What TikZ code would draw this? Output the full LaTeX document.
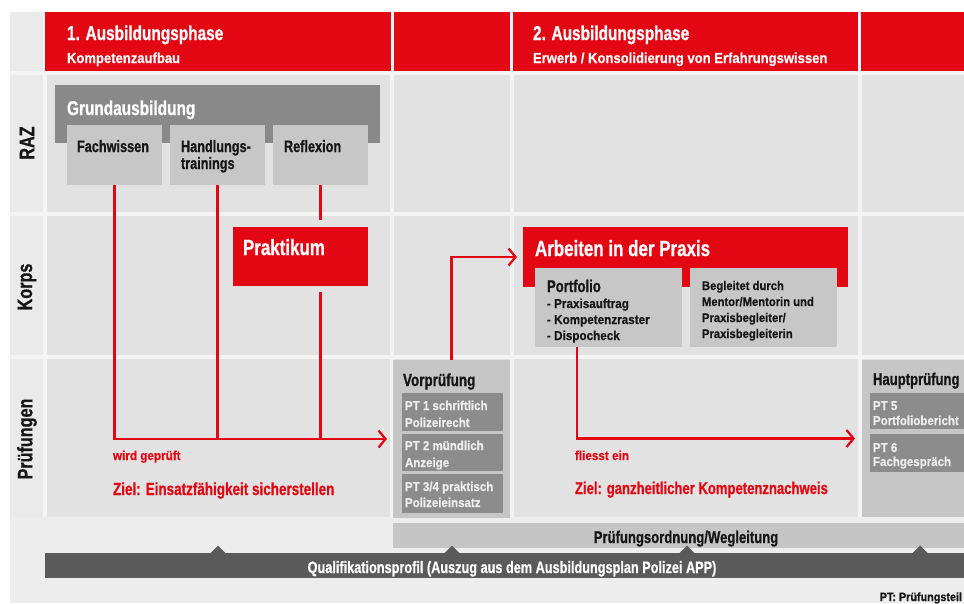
\documentclass[tikz,border=0pt]{standalone}
\usepackage{fontspec}
\setmainfont{Liberation Sans}
\newfontfamily\cnd{Liberation Sans}[FakeStretch=0.77,FakeBold=0.8]
\newfontfamily\smf{Liberation Sans}[FakeStretch=0.9,FakeBold=0.5]
\usetikzlibrary{arrows.meta}
\newcommand{\fsz}[1]{\fontsize{#1}{#1}\selectfont}
\definecolor{rot}{RGB}{227,6,19}
\definecolor{bodyc}{RGB}{226,226,226}
\definecolor{labc}{RGB}{234,234,234}
\definecolor{gapc}{RGB}{244,244,244}
\definecolor{lowc}{RGB}{237,237,237}
\definecolor{grundc}{RGB}{137,137,137}
\definecolor{lightc}{RGB}{199,199,199}
\definecolor{vorc}{RGB}{198,198,198}
\definecolor{ptc}{RGB}{140,140,140}
\definecolor{pttext}{RGB}{238,238,238}
\definecolor{darkbar}{RGB}{90,90,90}
\definecolor{ordc}{RGB}{197,197,197}
\definecolor{darkt}{RGB}{22,22,22}
\begin{document}
\begin{tikzpicture}[x=1pt,y=-1pt,
  box/.style={anchor=north west,inner sep=0pt,outer sep=0pt},
  lab/.style={inner sep=0pt,outer sep=0pt,anchor=base west},
  big/.style={font=\cnd\bfseries\fsz{#1}},
  sml/.style={font=\smf\bfseries\fsz{#1}},
  rowlab/.style={inner sep=0pt,rotate=90,font=\cnd\bfseries\fsz{21},text=darkt},
  redline/.style={draw=rot,line width=2.3pt},
  arr/.style={-{Straight Barb[length=7pt,width=17pt]}}]
\useasboundingbox (0,0) rectangle (964,603);
\clip (0,0) rectangle (964,603);
% background
\fill[white] (0,0) rectangle (964,603);
\fill[gapc] (10,12) rectangle (964,603);
\fill[lowc] (10,517) rectangle (964,603);
\fill[labc] (10,12) rectangle (43,71);
\fill[labc] (10,75) rectangle (43,212);
\fill[labc] (10,216) rectangle (43,355);
\fill[labc] (10,359) rectangle (43,517);
\foreach \xa/\xb in {47/390,394/510,514/858,862/964}{
  \fill[bodyc] (\xa,75) rectangle (\xb,212);
  \fill[bodyc] (\xa,216) rectangle (\xb,355);
  \fill[bodyc] (\xa,359) rectangle (\xb,517);
}
% header
\foreach \xa/\xb in {45/391,394/510,513/858,861/964}{
  \fill[rot] (\xa,12) rectangle (\xb,71);
}
\node[lab,big=20,text=white] (ph1) at (67,40) {1. Ausbildungsphase};
\node[lab,sml=14.5,text=white] (ph1s) at (67,63) {Kompetenzaufbau};
\node[lab,big=20,text=white] (ph2) at (533,40) {2. Ausbildungsphase};
\node[lab,sml=14.5,text=white] (ph2s) at (533,63) {Erwerb / Konsolidierung von Erfahrungswissen};
% row labels
\node[rowlab] (lraz) at (27,143) {RAZ};
\node[rowlab] (lkorps) at (27,287) {Korps};
\node[rowlab] (lpruef) at (27,439) {Prüfungen};
% Grundausbildung
\node[box,fill=grundc,minimum width=325pt,minimum height=58pt] (grund) at (55,85) {};
\node[lab,big=20,text=white] (grundt) at (67,115) {Grundausbildung};
\node[box,fill=lightc,minimum width=95pt,minimum height=60pt] (fach) at (67,125) {};
\node[box,fill=lightc,minimum width=95pt,minimum height=60pt] (hand) at (170,125) {};
\node[box,fill=lightc,minimum width=95pt,minimum height=60pt] (refl) at (273,125) {};
\node[lab,big=16.5,text=darkt] (facht) at (77,152) {Fachwissen};
\node[lab,big=16.5,text=darkt] (handt1) at (181,152) {Handlungs-};
\node[lab,big=16.5,text=darkt] (handt2) at (181,169) {trainings};
\node[lab,big=16.5,text=darkt] (reflt) at (284,152) {Reflexion};
% Praktikum
\node[box,fill=rot,minimum width=135pt,minimum height=59pt] (prak) at (233,227) {};
\node[lab,big=22,text=white] (prakt) at (243,255) {Praktikum};
% Arbeiten in der Praxis
\node[box,fill=rot,minimum width=325pt,minimum height=60pt] (arb) at (523,227) {};
\node[lab,big=22,text=white] (arbt) at (535,256) {Arbeiten in der Praxis};
\node[box,fill=lightc,minimum width=147pt,minimum height=79pt] (port) at (535,268) {};
\node[box,fill=lightc,minimum width=147pt,minimum height=79pt] (beg) at (690,268) {};
\node[lab,big=17,text=darkt] (portt) at (547,292) {Portfolio};
\node[lab,sml=13,text=darkt] (pb1) at (547,308) {- Praxisauftrag};
\node[lab,sml=13,text=darkt] (pb2) at (547,324) {- Kompetenzraster};
\node[lab,sml=13,text=darkt] (pb3) at (547,340) {- Dispocheck};
\node[lab,sml=12.5,text=darkt] (bg1) at (702,290) {Begleitet durch};
\node[lab,sml=12.5,text=darkt] (bg2) at (702,306) {Mentor/Mentorin und};
\node[lab,sml=12.5,text=darkt] (bg3) at (702,322) {Praxisbegleiter/};
\node[lab,sml=12.5,text=darkt] (bg4) at (702,338) {Praxisbegleiterin};
% Vorpruefung
\node[box,fill=vorc,minimum width=117pt,minimum height=158pt] (vor) at (393,360) {};
\node[lab,big=17.5,text=darkt] (vort) at (403,386) {Vorprüfung};
\node[box,fill=ptc,minimum width=101pt,minimum height=38pt] (pt1) at (402,393) {};
\node[box,fill=ptc,minimum width=101pt,minimum height=37pt] (pt2) at (402,434) {};
\node[box,fill=ptc,minimum width=101pt,minimum height=39pt] (pt3) at (402,474) {};
\node[lab,sml=12.8,text=pttext] (pt1a) at (405,410) {PT 1 schriftlich};
\node[lab,sml=12.8,text=pttext] (pt1b) at (405,427) {Polizeirecht};
\node[lab,sml=12.8,text=pttext] (pt2a) at (405,450) {PT 2 mündlich};
\node[lab,sml=12.8,text=pttext] (pt2b) at (405,467) {Anzeige};
\node[lab,sml=12.8,text=pttext] (pt3a) at (405,491) {PT 3/4 praktisch};
\node[lab,sml=12.8,text=pttext] (pt3b) at (405,507) {Polizeieinsatz};
% Hauptpruefung
\node[box,fill=vorc,minimum width=140pt,minimum height=157pt] (haupt) at (862,360) {};
\node[lab,big=17,text=darkt] (hauptt) at (873,385) {Hauptprüfung};
\node[box,fill=ptc,minimum width=130pt,minimum height=36pt] (pt5) at (870,393) {};
\node[box,fill=ptc,minimum width=130pt,minimum height=38pt] (pt6) at (870,434) {};
\node[lab,sml=12.8,text=pttext] (pt5a) at (873,410) {PT 5};
\node[lab,sml=12.8,text=pttext] (pt5b) at (873,425) {Portfoliobericht};
\node[lab,sml=12.8,text=pttext] (pt6a) at (873,452) {PT 6};
\node[lab,sml=12.8,text=pttext] (pt6b) at (873,466) {Fachgespräch};
% red texts
\node[lab,sml=13,text=rot] (wg) at (113,460) {wird geprüft};
\node[lab,big=17.5,text=rot] (z1) at (113,495) {Ziel: Einsatzfähigkeit sicherstellen};
\node[lab,sml=13,text=rot] (fe) at (575,460) {fliesst ein};
\node[lab,big=17,text=rot] (z2) at (575,494) {Ziel: ganzheitlicher Kompetenznachweis};
% bottom bars
\node[box,fill=ordc,minimum width=571pt,minimum height=25pt] (obar) at (393,523) {};
\node[lab,anchor=base,big=17,text=darkt] (ot) at (686,543) {Prüfungsordnung/Wegleitung};
\node[box,fill=darkbar,minimum width=919pt,minimum height=25pt] (qbar) at (45,553) {};
\foreach \tx in {218,452,687,920}{
  \fill[darkbar] (\tx-8,553.5) -- (\tx,545.5) -- (\tx+8,553.5) -- cycle;
}
\node[lab,anchor=base,big=16.5,text=white] (qt) at (512,573) {Qualifikationsprofil (Auszug aus dem Ausbildungsplan Polizei APP)};
\node[lab,anchor=base east,sml=12,text=darkt] (ptl) at (962,601) {PT: Prüfungsteil};
% connectors
\draw[redline,arr] (fach.south) |- ([xshift=-6pt]vor.west);
\draw[redline] (hand.south) -- (hand.south |- vor.west);
\draw[redline,shorten >=7pt] (refl.south) -- (refl.south |- prak.north);
\draw[redline,shorten <=6pt] (refl.south |- prak.south) -- (refl.south |- vor.west);
\draw[redline,arr] (vor.north) |- ([xshift=-6pt]arb.west);
\coordinate (pdrop) at ([xshift=-31.5pt]port.south);
\draw[redline,arr] (pdrop) |- ([xshift=-7pt]haupt.west);
\end{tikzpicture}
\end{document}
